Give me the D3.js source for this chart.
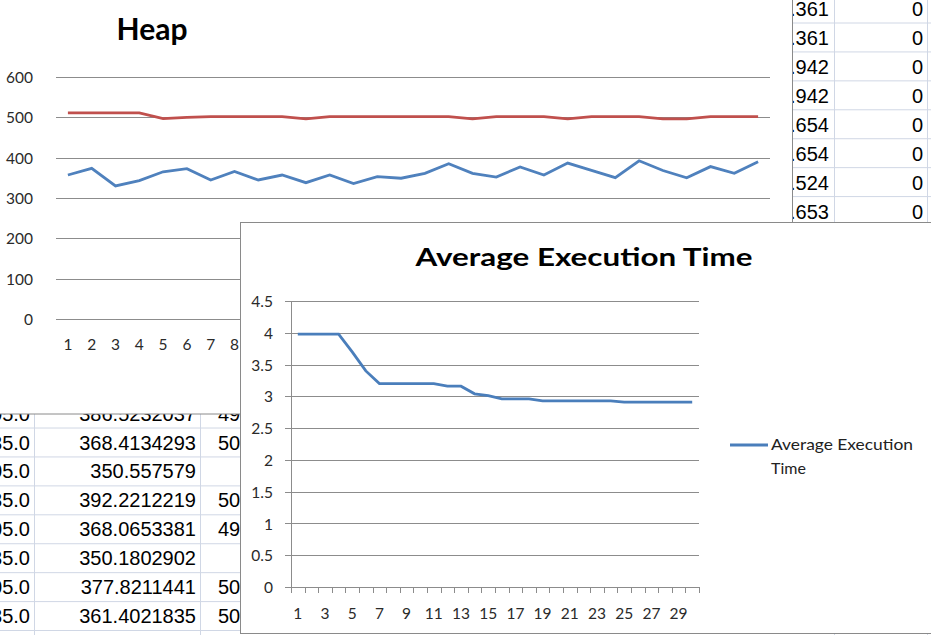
<!DOCTYPE html>
<html lang="en">
	<head>
		<meta charset="utf-8">
		<title>Heap and Average Execution Time</title>
		<script type="text/javascript" src="https://cdn.jsdelivr.net/npm/d3@7"></script>
		<style type="text/css">
        body { margin: 0; background: #fff; overflow: hidden; }
        .cell { font-family: "Liberation Sans", Arial, sans-serif; font-size: 20px; fill: #000; }
        .tick text { font-family: Lato, "Open Sans", sans-serif; font-size: 15.5px; fill: #2a2a2a; }
		</style>
	</head>
	<body>
		<div id="chart"></div>
		<script type="text/javascript">

        // iterations 1..30
        var runs = d3.range(1, 31);

        // heap chart, two series
        var heapBlue = [357, 373.6, 329.8, 343, 365, 372.7, 344.7, 366, 344.7, 357,
                        338, 357, 336, 353, 349, 361, 385, 361, 352, 377,
                        357, 386.5232037, 368.4134293, 350.557579, 392.2212219, 368.0653381, 350.1802902, 377.8211441, 361.4021835, 390];
        var heapRed = [511, 511, 511, 511, 497, 500, 502, 502, 502, 502,
                       496, 502, 502, 502, 502, 502, 502, 496, 502, 502,
                       502, 496, 502, 502, 502, 496, 496, 502, 502, 502];
        var heapTicks = [0, 100, 200, 300, 400, 500, 600];

        // average execution time chart
        var execTime = [3.98, 3.98, 3.98, 3.98, 3.7, 3.4, 3.2, 3.2, 3.2, 3.2,
                        3.2, 3.16, 3.16, 3.04, 3.01, 2.96, 2.96, 2.96, 2.93, 2.93,
                        2.93, 2.93, 2.93, 2.93, 2.91, 2.91, 2.91, 2.91, 2.91, 2.91];
        var execTicks = [0, 0.5, 1, 1.5, 2, 2.5, 3, 3.5, 4, 4.5];
        var execLabels = runs.filter(function(d) { return d % 2 == 1; });

        // spreadsheet cells peeking out behind the charts
        var leftColA = ["05.0", "35.0", "05.0", "35.0", "05.0", "35.0", "05.0", "35.0"];
        var leftColB = ["386.5232037", "368.4134293", "350.557579", "392.2212219", "368.0653381", "350.1802902", "377.8211441", "361.4021835"];
        var leftColC = ["49", "50", "", "50", "49", "", "50", "50"];
        var rightColA = [".361", ".361", ".942", ".942", ".654", ".654", ".524", ".653"];
        var rightColB = ["0", "0", "0", "0", "0", "0", "0", "0"];

        var W = 931, H = 635;
        var rowH = 28.93, row0 = 23 - rowH;

        var svg = d3.select("#chart")
                    .append("svg")
                    .attr("width", W)
                    .attr("height", H);

        // ---- sheet ----
        var sheet = svg.append("g");
        d3.range(-1, 23).forEach(function(i) {
            sheet.append("line")
                 .attr("x1", 0).attr("x2", W)
                 .attr("y1", 23 + i * rowH).attr("y2", 23 + i * rowH)
                 .attr("stroke", "#d0d7e5");
        });
        [34, 200, 834, 927].forEach(function(x) {
            sheet.append("line")
                 .attr("x1", x + 0.5).attr("x2", x + 0.5)
                 .attr("y1", 0).attr("y2", H)
                 .attr("stroke", "#d0d7e5");
        });

        var leftRow = function(i) { return row0 + (14 + i) * rowH + 21.5; };
        sheet.selectAll(".la").data(leftColA).enter().append("text")
             .attr("class", "cell").attr("text-anchor", "end")
             .attr("x", 30).attr("y", function(d, i) { return leftRow(i); })
             .text(function(d) { return d; });
        sheet.selectAll(".lb").data(leftColB).enter().append("text")
             .attr("class", "cell").attr("text-anchor", "end")
             .attr("x", 196).attr("y", function(d, i) { return leftRow(i); })
             .text(function(d) { return d; });
        sheet.selectAll(".lc").data(leftColC).enter().append("text")
             .attr("class", "cell")
             .attr("x", 218).attr("y", function(d, i) { return leftRow(i); })
             .text(function(d) { return d; });

        var rightRow = function(i) { return row0 + i * rowH + 22; };
        sheet.selectAll(".ra").data(rightColA).enter().append("text")
             .attr("class", "cell").attr("text-anchor", "end")
             .attr("x", 829).attr("y", function(d, i) { return rightRow(i); })
             .text(function(d) { return d; });
        sheet.selectAll(".rb").data(rightColB).enter().append("text")
             .attr("class", "cell").attr("text-anchor", "end")
             .attr("x", 923).attr("y", function(d, i) { return rightRow(i); })
             .text(function(d) { return d; });

        // ---- heap chart ----
        var heap = svg.append("g");
        heap.append("rect")
            .attr("x", -2).attr("y", -2)
            .attr("width", 794.5).attr("height", 416)
            .attr("fill", "#fff")
            .attr("stroke", "#8a8a8a");

        heap.append("text")
            .attr("x", 152).attr("y", 40)
            .attr("text-anchor", "middle")
            .attr("font-family", "Lato, sans-serif")
            .attr("font-weight", "bold")
            .attr("font-size", 30)
            .attr("fill", "#000")
            .text("Heap");

        var hx = d3.scaleBand().domain(runs).range([56, 770]);
        var hy = d3.scaleLinear().domain([0, 600]).range([319, 77]);

        heap.selectAll(".grid").data(heapTicks).enter().append("line")
            .attr("x1", 56).attr("x2", 770)
            .attr("y1", function(d) { return Math.round(hy(d)) + 0.5; })
            .attr("y2", function(d) { return Math.round(hy(d)) + 0.5; })
            .attr("stroke", "#8c8c8c");

        heap.append("g")
            .attr("transform", "translate(33,0)")
            .call(d3.axisLeft(hy).tickValues(heapTicks).tickSize(0).tickPadding(0))
            .call(function(g) { g.select(".domain").remove(); })
            .selectAll("text").attr("dy", "0.36em");

        heap.append("g")
            .attr("transform", "translate(0,334)")
            .call(d3.axisBottom(hx).tickSize(0).tickPadding(0))
            .call(function(g) { g.select(".domain").remove(); })
            .selectAll("text").attr("dy", "1em");

        var hline = d3.line()
                      .x(function(d, i) { return hx(runs[i]) + hx.bandwidth() / 2; })
                      .y(function(d) { return hy(d); });

        heap.append("path")
            .datum(heapRed)
            .attr("d", hline)
            .attr("fill", "none")
            .attr("stroke", "#c0504d")
            .attr("stroke-width", 2.8);
        heap.append("path")
            .datum(heapBlue)
            .attr("d", hline)
            .attr("fill", "none")
            .attr("stroke", "#4f81bd")
            .attr("stroke-width", 2.8);

        // ---- average execution time chart ----
        var ex = svg.append("g");
        ex.append("rect")
          .attr("x", 240.5).attr("y", 222.5)
          .attr("width", 700).attr("height", 411)
          .attr("fill", "#fff")
          .attr("stroke", "#8a8a8a");

        ex.append("text")
          .attr("x", 584).attr("y", 266)
          .attr("text-anchor", "middle")
          .attr("font-family", "Lato, sans-serif")
          .attr("font-weight", "bold")
          .attr("font-size", 25)
          .attr("textLength", 337)
          .attr("lengthAdjust", "spacingAndGlyphs")
          .attr("fill", "#000")
          .text("Average Execution Time");

        var x = d3.scaleBand().domain(runs).range([291, 699]);
        var y = d3.scaleLinear().domain([0, 4.5]).range([587, 301]);

        ex.selectAll(".grid").data(execTicks).enter().append("line")
          .attr("x1", 285).attr("x2", 699)
          .attr("y1", function(d) { return Math.round(y(d)) + 0.5; })
          .attr("y2", function(d) { return Math.round(y(d)) + 0.5; })
          .attr("stroke", "#8c8c8c");

        ex.append("line")
          .attr("x1", 291.5).attr("x2", 291.5)
          .attr("y1", y(4.5)).attr("y2", y(0))
          .attr("stroke", "#8c8c8c");

        // category tick marks on the band edges
        ex.selectAll(".xt").data(runs.concat([31])).enter().append("line")
          .attr("x1", function(d) { return Math.round(d > 30 ? x.range()[1] : x(d)) + 0.5; })
          .attr("x2", function(d) { return Math.round(d > 30 ? x.range()[1] : x(d)) + 0.5; })
          .attr("y1", y(0)).attr("y2", y(0) + 6)
          .attr("stroke", "#8c8c8c");

        ex.append("g")
          .attr("transform", "translate(273,0)")
          .call(d3.axisLeft(y).tickValues(execTicks).tickFormat(function(d) { return d; }).tickSize(0).tickPadding(0))
          .call(function(g) { g.select(".domain").remove(); })
          .selectAll("text").attr("dy", "0.36em");

        ex.append("g")
          .attr("transform", "translate(0,603)")
          .call(d3.axisBottom(x).tickValues(execLabels).tickSize(0).tickPadding(0))
          .call(function(g) { g.select(".domain").remove(); })
          .selectAll("text").attr("dy", "1em");

        var line = d3.line()
                     .x(function(d, i) { return x(runs[i]) + x.bandwidth() / 2; })
                     .y(function(d) { return y(d); });

        ex.append("path")
          .datum(execTime)
          .attr("d", line)
          .attr("fill", "none")
          .attr("stroke", "#4a7ebb")
          .attr("stroke-width", 2.8);

        // legend
        ex.append("line")
          .attr("x1", 730).attr("x2", 768)
          .attr("y1", 445).attr("y2", 445)
          .attr("stroke", "#4a7ebb")
          .attr("stroke-width", 2.8);
        ex.append("text")
          .attr("x", 771).attr("y", 450)
          .attr("font-family", "Lato, sans-serif")
          .attr("font-size", 16)
          .attr("textLength", 142)
          .attr("lengthAdjust", "spacingAndGlyphs")
          .attr("fill", "#222")
          .text("Average Execution");
        ex.append("text")
          .attr("x", 771).attr("y", 474)
          .attr("font-family", "Lato, sans-serif")
          .attr("font-size", 16)
          .attr("fill", "#222")
          .text("Time");

		</script>
	</body>
</html>
